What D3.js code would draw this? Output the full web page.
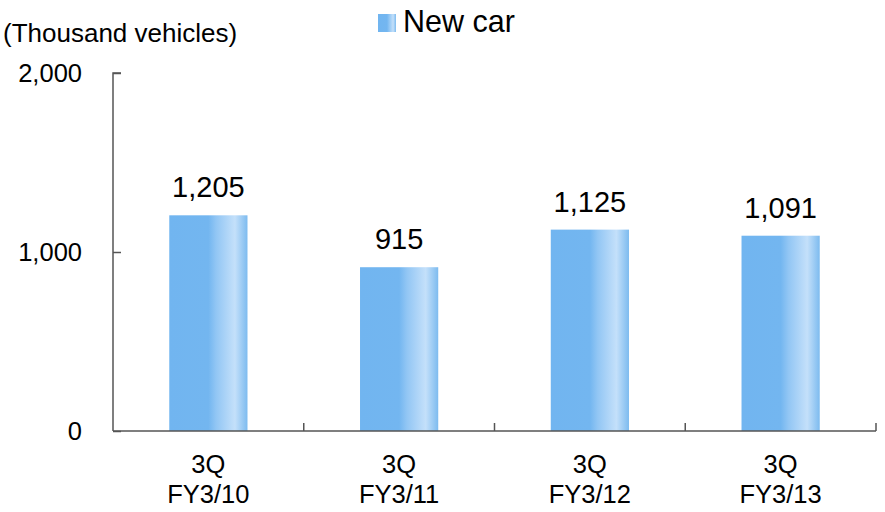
<!DOCTYPE html>
<html><head><meta charset="utf-8">
<script src="https://cdn.jsdelivr.net/npm/d3@7"></script>
<style>
html,body{margin:0;padding:0;background:#fff;}
svg{display:block;font-family:"Liberation Sans",Arial,sans-serif;}
</style></head>
<body>
<svg id="chart" width="885" height="512"></svg>
<script>
const categories = [["3Q","FY3/10"],["3Q","FY3/11"],["3Q","FY3/12"],["3Q","FY3/13"]];
const newCar = [1205, 915, 1125, 1091];
const yTicks = [0, 1000, 2000];
const seriesName = "New car";
const unitLabel = "(Thousand vehicles)";

const svg = d3.select("#chart");
const W = 885, H = 512;
const m = {left: 113, right: 9, top: 73, bottom: 81};
const x = d3.scaleBand().domain(categories.map((d,i)=>i)).range([m.left, W - m.right]).paddingInner(0).paddingOuter(0);
const y = d3.scaleLinear().domain([0, 2000]).range([H - m.bottom, m.top]);
const barW = x.bandwidth() * 0.41;

const defs = svg.append("defs");
const grad = defs.append("linearGradient").attr("id","barGrad").attr("x1","0").attr("x2","1").attr("y1","0").attr("y2","0");
[[0,"#71b5f0"],[0.5,"#73b6f0"],[0.6,"#92c6f4"],[0.84,"#c4e0fa"],[1,"#7dbbef"]].forEach(([o,c])=>
  grad.append("stop").attr("offset",o).attr("stop-color",c));

// bars
svg.append("g").selectAll("rect").data(newCar).join("rect")
  .attr("x",(d,i)=>x(i) + x.bandwidth()/2 - barW/2)
  .attr("width",barW)
  .attr("y",d=>y(d))
  .attr("height",d=>y(0)-y(d))
  .attr("fill","url(#barGrad)");

// value labels
svg.append("g").selectAll("text").data(newCar).join("text")
  .attr("x",(d,i)=>x(i) + x.bandwidth()/2)
  .attr("y",d=>y(d) - 18)
  .attr("text-anchor","middle")
  .attr("font-size",29)
  .attr("fill","#000")
  .text(d=>d3.format(",")(d));

// y axis
const yAxis = svg.append("g").attr("transform",`translate(${m.left},0)`)
  .call(d3.axisRight(y).tickValues(yTicks).tickSize(8).tickFormat(""));
yAxis.select(".domain").attr("d",`M8,${y(2000)}H0V${y(0)}`);
yAxis.selectAll("line,path").attr("stroke","#555").attr("stroke-width",1.5);
svg.append("g").selectAll("text").data(yTicks).join("text")
  .attr("x",82).attr("y",d=>y(d)+9)
  .attr("text-anchor","end").attr("font-size",25.5).attr("fill","#000")
  .text(d=>d3.format(",")(d));

// x axis
const xAxis = svg.append("g").attr("transform",`translate(0,${y(0)})`)
  .call(d3.axisTop(x).tickSize(0).tickFormat(""));
xAxis.select(".domain").attr("d",`M${m.left},0H${W-m.right}`);
xAxis.selectAll(".tick").remove();
const bounds = categories.map((d,i)=>x(i)+x.bandwidth());
xAxis.selectAll("line.sep").data(bounds).join("line").attr("class","sep")
  .attr("x1",d=>d).attr("x2",d=>d).attr("y1",-8).attr("y2",0);
xAxis.selectAll("line,path").attr("stroke","#555").attr("stroke-width",1.5);

const cat = svg.append("g").selectAll("text").data(categories).join("text")
  .attr("x",(d,i)=>x(i)+x.bandwidth()/2)
  .attr("y",473)
  .attr("text-anchor","middle").attr("font-size",25.5).attr("fill","#000");
cat.append("tspan").attr("x",(d,i)=>x(i)+x.bandwidth()/2).text(d=>d[0]);
cat.append("tspan").attr("x",(d,i)=>x(i)+x.bandwidth()/2).attr("dy",30).text(d=>d[1]);

// unit label
svg.append("text").attr("x",3).attr("y",42).attr("font-size",26).attr("fill","#000").text(unitLabel);

// legend
const lg = defs.append("linearGradient").attr("id","legGrad").attr("x1","0").attr("x2","1");
[[0,"#71b5f0"],[0.5,"#73b6f0"],[0.84,"#c4e0fa"],[1,"#7dbbef"]].forEach(([o,c])=>
  lg.append("stop").attr("offset",o).attr("stop-color",c));
svg.append("rect").attr("x",378).attr("y",14).attr("width",18).attr("height",18).attr("fill","url(#legGrad)");
svg.append("text").attr("x",403).attr("y",32).attr("font-size",30.5).attr("fill","#000").text(seriesName);
</script>
</body></html>
